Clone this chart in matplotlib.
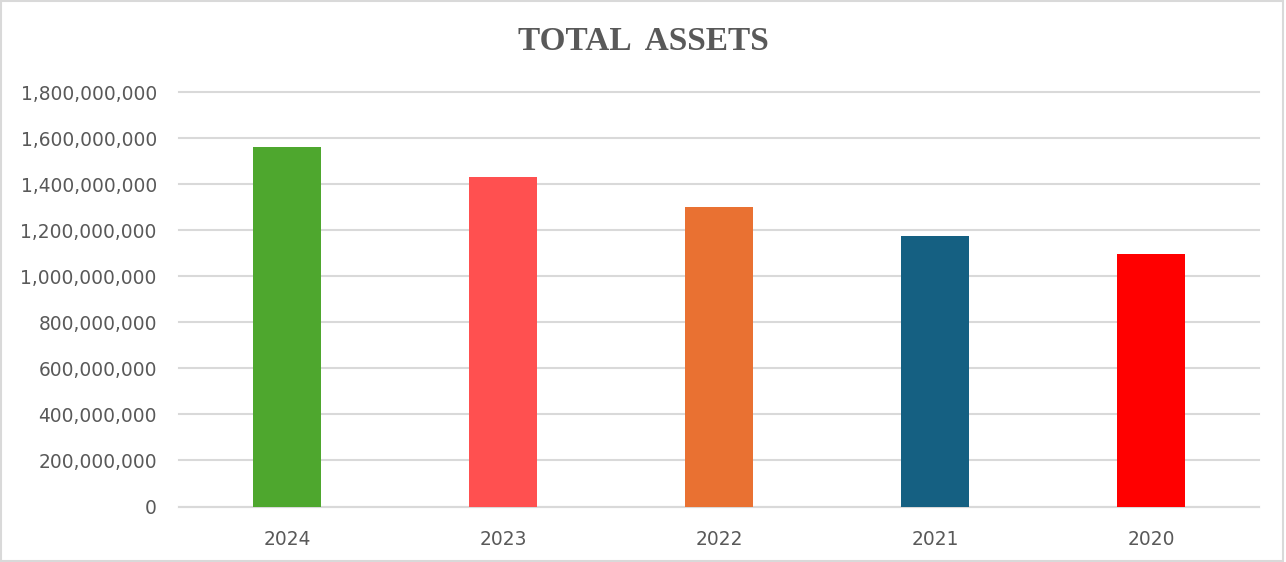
import matplotlib
matplotlib.use("Agg")
import matplotlib.pyplot as plt
from matplotlib.ticker import FuncFormatter, MultipleLocator
from matplotlib.patches import Rectangle

years = ["2024", "2023", "2022", "2021", "2020"]
total_assets = [1561000000, 1431000000, 1299000000, 1174000000, 1096000000]
bar_colors = ["#4EA72E", "#FF5050", "#E97132", "#156082", "#FF0000"]
title = "TOTAL  ASSETS"

fig = plt.figure(figsize=(12.86, 5.62), dpi=100)
ax = fig.add_axes([179/1286, 1 - 506.5/562, 1080/1286, (506.5 - 92)/562])

x = range(len(years))
ax.bar(x, total_assets, width=0.315, color=bar_colors, zorder=3)

ax.set_xlim(-0.5, len(years) - 0.5)
ax.set_ylim(0, 1800000000)
ax.yaxis.set_major_locator(MultipleLocator(200000000))
ax.yaxis.set_major_formatter(FuncFormatter(lambda v, p: f"{int(v):,}"))
ax.set_xticks(list(x))
ax.set_xticklabels(years)

ax.grid(axis="y", color="#D9D9D9", linewidth=1.5, zorder=0)
for gl in ax.get_ygridlines():
    gl.set_clip_on(False)
for s in ["top", "right", "left"]:
    ax.spines[s].set_visible(False)
ax.spines["bottom"].set_color("#D9D9D9")
ax.spines["bottom"].set_linewidth(1.5)
ax.tick_params(axis="both", length=0, labelsize=13.4, labelcolor="#595959")
ax.tick_params(axis="y", pad=16)
ax.tick_params(axis="x", pad=17)

fig.text(0.5, 1 - 42/562, title, ha="center", va="center",
         family="Liberation Serif", fontweight="bold", fontsize=24, color="#595959")

fig.patches.append(Rectangle((0.001, 0.001), 0.997, 0.997, transform=fig.transFigure,
                             fill=False, edgecolor="#D9D9D9", linewidth=1.5))

fig.savefig("out.png", dpi=100, facecolor="white")
